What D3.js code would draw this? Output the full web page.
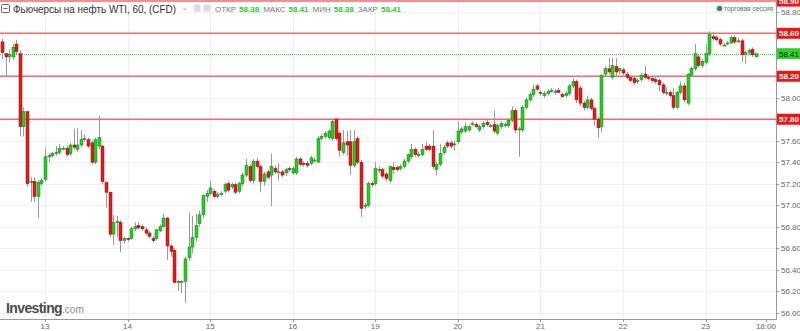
<!DOCTYPE html>
<html>
<head>
<meta charset="utf-8">
<script src="https://cdn.jsdelivr.net/npm/d3@7"></script>
<style>
  body { margin: 0; background: #fff; }
  text { font-family: "Liberation Sans", Arial, sans-serif; }
</style>
</head>
<body>
<div class="canvas"></div>
<script>
// hourly candles, first one is hour index -12 (day 13 starts at 0, 23 bars per day)
const firstHour = -12;

const opens = [
  58.52,58.41,58.38,58.38,58.50,58.41,57.73,57.87,57.21,57.22,57.08,57.20,
  57.24,57.45,57.46,57.48,57.49,57.53,57.53,57.48,57.56,57.52,
  57.56,57.61,57.61,57.58,57.40,57.55,57.55,57.21,57.12,56.73,
  56.84,56.84,56.67,56.69,56.69,56.78,56.81,56.80,56.77,56.74,
  56.69,56.69,56.76,56.80,56.88,56.62,56.58,56.28,56.28,56.29,
  56.51,56.61,56.70,56.83,56.91,57.08,57.11,57.13,57.08,57.10,
  57.13,57.20,57.17,57.19,57.13,57.20,57.28,57.36,57.23,57.41,
  57.36,57.22,57.31,57.28,57.34,57.31,57.31,57.30,57.34,57.30,
  57.30,57.43,57.39,57.39,57.39,57.42,57.40,57.62,57.64,57.63,
  57.62,57.80,57.67,57.49,57.59,57.59,57.37,57.62,57.40,56.99,
  57.00,57.20,57.20,57.33,57.33,57.29,57.23,57.35,57.35,57.34,
  57.36,57.41,57.45,57.52,57.47,57.47,57.55,57.55,57.55,57.33,
  57.38,57.49,57.58,57.58,57.57,57.59,57.68,57.69,57.70,57.76,
  57.75,57.70,57.73,57.77,57.74,57.75,57.67,57.73,57.74,57.74,
  57.79,57.88,57.70,57.70,57.91,57.98,58.03,58.11,58.05,58.02,
  58.04,58.07,58.05,58.07,58.03,58.02,58.04,58.11,58.15,58.09,
  57.95,57.91,57.98,57.90,57.80,57.73,58.22,58.27,58.19,58.29,
  58.25,58.26,58.22,58.19,58.18,58.15,58.17,58.22,58.19,58.18,
  58.17,58.16,58.12,58.04,58.05,58.02,57.91,58.05,58.11,57.95,
  58.21,58.27,58.38,58.30,58.33,58.41,58.57,58.56,58.54,58.49,
  58.50,58.51,58.56,58.52,58.53,58.41,58.42,58.45,58.38
];
const highs = [
  58.55,58.42,58.45,58.50,58.54,58.44,57.91,57.88,57.26,57.26,57.23,57.25,
  57.53,57.48,57.50,57.55,57.57,57.55,57.55,57.58,57.71,57.72,
  57.70,57.66,57.63,57.60,57.63,57.83,57.56,57.22,57.13,56.91,
  56.90,56.86,56.71,56.70,56.80,56.84,56.84,56.82,56.79,56.76,
  56.71,56.78,56.82,56.92,56.89,56.64,56.60,56.31,56.30,56.52,
  56.93,56.90,56.92,56.95,57.10,57.14,57.23,57.15,57.12,57.13,
  57.21,57.22,57.21,57.21,57.22,57.30,57.43,57.38,57.43,57.44,
  57.38,57.31,57.33,57.48,57.37,57.39,57.33,57.35,57.36,57.36,
  57.45,57.45,57.41,57.41,57.46,57.44,57.64,57.66,57.69,57.71,
  57.80,57.81,57.69,57.70,57.69,57.70,57.70,57.64,57.42,57.02,
  57.22,57.22,57.40,57.36,57.35,57.31,57.37,57.40,57.37,57.38,
  57.43,57.48,57.57,57.54,57.50,57.57,57.59,57.57,57.70,57.40,
  57.57,57.56,57.60,57.60,57.60,57.78,57.73,57.77,57.75,57.78,
  57.77,57.75,57.78,57.79,57.76,57.88,57.76,57.78,57.77,57.81,
  57.92,57.90,57.73,57.93,58.00,58.05,58.12,58.13,58.07,58.06,
  58.08,58.09,58.08,58.09,58.05,58.06,58.13,58.18,58.17,58.11,
  57.97,58.02,58.00,57.92,57.82,58.22,58.29,58.37,58.37,58.37,
  58.28,58.28,58.24,58.21,58.20,58.18,58.23,58.30,58.21,58.20,
  58.19,58.18,58.14,58.10,58.07,58.09,58.06,58.15,58.14,58.23,
  58.29,58.50,58.40,58.36,58.50,58.62,58.61,58.58,58.56,58.51,
  58.53,58.58,58.58,58.56,58.55,58.44,58.46,58.47,58.41
];
const lows = [
  58.36,58.20,58.33,58.35,58.40,57.64,57.64,57.17,57.03,57.03,56.88,57.18,
  57.22,57.40,57.44,57.46,57.47,57.51,57.45,57.46,57.52,57.50,
  57.54,57.59,57.53,57.38,57.38,57.52,57.20,56.98,56.70,56.63,
  56.70,56.56,56.64,56.66,56.68,56.76,56.77,56.76,56.72,56.69,
  56.65,56.67,56.75,56.79,56.49,56.52,56.27,56.20,56.18,56.09,
  56.48,56.55,56.66,56.80,56.88,57.03,57.09,57.06,57.06,57.08,
  57.11,57.12,57.15,57.10,57.11,57.18,57.26,57.21,57.20,57.34,
  57.12,57.18,57.24,56.99,57.29,57.23,57.26,57.27,57.31,57.28,
  57.28,57.36,57.36,57.35,57.37,57.40,57.39,57.60,57.62,57.61,
  57.60,57.60,57.45,57.47,57.46,57.28,57.35,57.38,56.89,56.96,
  56.98,57.17,57.18,57.30,57.25,57.22,57.21,57.29,57.31,57.32,
  57.34,57.39,57.43,57.45,57.44,57.45,57.50,57.50,57.34,57.28,
  57.36,57.47,57.53,57.53,57.51,57.57,57.66,57.67,57.68,57.74,
  57.72,57.68,57.71,57.73,57.72,57.67,57.65,57.71,57.72,57.72,
  57.77,57.67,57.45,57.68,57.89,57.96,58.01,58.06,58.02,58.00,
  58.02,58.05,58.03,58.04,58.00,58.00,58.02,58.09,57.95,57.92,
  57.88,57.89,57.88,57.74,57.63,57.68,58.20,58.22,58.17,58.20,
  58.22,58.21,58.17,58.14,58.12,58.13,58.15,58.17,58.16,58.14,
  58.13,58.06,58.03,58.02,58.00,57.89,57.89,58.03,57.96,57.93,
  58.19,58.25,58.28,58.28,58.31,58.39,58.53,58.52,58.48,58.48,
  58.49,58.50,58.50,58.51,58.33,58.32,58.40,58.38,58.38
];
const closes = [
  58.42,58.38,58.40,58.47,58.43,57.73,57.87,57.20,57.22,57.08,57.21,57.23,
  57.45,57.46,57.48,57.49,57.53,57.53,57.47,57.56,57.54,57.56,
  57.61,57.62,57.55,57.40,57.61,57.63,57.22,57.12,56.73,56.84,
  56.85,56.67,56.69,56.68,56.78,56.80,56.79,56.78,56.74,56.71,
  56.67,56.77,56.80,56.88,56.62,56.57,56.28,56.29,56.29,56.50,
  56.61,56.70,56.81,56.91,57.09,57.11,57.16,57.08,57.10,57.11,
  57.19,57.14,57.19,57.12,57.20,57.28,57.37,57.23,57.41,57.36,
  57.22,57.29,57.26,57.36,57.31,57.31,57.28,57.33,57.33,57.34,
  57.43,57.38,57.38,57.37,57.44,57.42,57.62,57.64,57.67,57.69,
  57.78,57.62,57.51,57.58,57.56,57.37,57.59,57.40,56.97,57.00,
  57.20,57.19,57.34,57.33,57.27,57.25,57.36,57.33,57.33,57.36,
  57.41,57.47,57.52,57.47,57.47,57.52,57.52,57.52,57.36,57.38,
  57.48,57.54,57.55,57.55,57.57,57.69,57.71,57.73,57.73,57.76,
  57.73,57.73,57.76,57.75,57.74,57.69,57.74,57.76,57.75,57.79,
  57.88,57.70,57.71,57.91,57.98,58.03,58.08,58.08,58.04,58.04,
  58.06,58.07,58.06,58.05,58.01,58.04,58.11,58.15,57.98,57.95,
  57.91,57.98,57.90,57.80,57.72,58.21,58.27,58.24,58.30,58.24,
  58.27,58.23,58.19,58.16,58.14,58.16,58.21,58.19,58.18,58.16,
  58.15,58.12,58.05,58.05,58.02,57.91,58.05,58.11,57.98,58.22,
  58.27,58.41,58.30,58.34,58.41,58.59,58.55,58.54,58.50,58.49,
  58.51,58.56,58.52,58.53,58.40,58.42,58.44,58.40,58.41
];

const dayLabels = ['13', '14', '15', '16', '19', '20', '21', '22', '23'];
const barsPerDay = 23;
const timeTick = { hour: 200.8, label: '18:00' };
const priceTicks = [56.0, 56.2, 56.4, 56.6, 56.8, 57.0, 57.2, 57.4, 57.6, 57.8, 58.0, 58.2, 58.4, 58.6, 58.8];
const levelLines = [58.90, 58.60, 58.20, 57.80];
const lastPrice = 58.41;
const header = { title: 'Фьючерсы на нефть WTI, 60, (CFD)', open: '58.38', high: '58.41', low: '58.38', close: '58.41' };

const candles = opens.map((o, i) => ({
  hour: firstHour + i, open: o, high: highs[i], low: lows[i], close: closes[i]
}));

const dims = { width: 800, height: 331, plotRight: 776, plotBottom: 319 };

const svg = d3.select('.canvas')
  .append('svg')
  .attr('width', dims.width)
  .attr('height', dims.height);

const x = d3.scaleLinear().domain([0, 8 * barsPerDay]).range([45, 705.6]);
const y = d3.scaleLinear().domain([55.94, 58.91]).range([dims.plotBottom, 0]);

// grid
const grid = svg.append('g');
grid.selectAll('.hgrid').data(priceTicks).enter().append('line')
  .attr('x1', 0).attr('x2', dims.plotRight)
  .attr('y1', d => Math.round(y(d)) + 0.5).attr('y2', d => Math.round(y(d)) + 0.5)
  .attr('stroke', '#efefef');
grid.selectAll('.vgrid').data(dayLabels).enter().append('line')
  .attr('x1', (d, i) => Math.round(x(i * barsPerDay)) + 0.5)
  .attr('x2', (d, i) => Math.round(x(i * barsPerDay)) + 0.5)
  .attr('y1', 0).attr('y2', dims.plotBottom)
  .attr('stroke', '#efefef');

// level lines
svg.selectAll('.level').data(levelLines).enter().append('line')
  .attr('x1', 0).attr('x2', dims.plotRight)
  .attr('y1', d => y(d)).attr('y2', d => y(d))
  .attr('stroke', '#f26a6a').attr('stroke-width', 1.5);

svg.append('line')
  .attr('x1', 0).attr('x2', dims.plotRight)
  .attr('y1', Math.round(y(lastPrice)) + 0.5).attr('y2', Math.round(y(lastPrice)) + 0.5)
  .attr('stroke', '#4ccf4c').attr('stroke-dasharray', '1,1');

// candles
const bw = 3;
const cg = svg.append('g');
cg.selectAll('.wick').data(candles).enter().append('line')
  .attr('x1', d => Math.round(x(d.hour)) + 0.5)
  .attr('x2', d => Math.round(x(d.hour)) + 0.5)
  .attr('y1', d => y(d.high)).attr('y2', d => y(d.low))
  .attr('stroke', '#999').attr('stroke-width', 1);
cg.selectAll('.body').data(candles).enter().append('rect')
  .attr('x', d => Math.round(x(d.hour)) - 1)
  .attr('y', d => y(Math.max(d.open, d.close)))
  .attr('width', bw)
  .attr('height', d => Math.max(1, Math.abs(y(d.open) - y(d.close))))
  .attr('fill', d => d.close >= d.open ? '#22d122' : '#e21b1b')
  .attr('stroke', d => d.close >= d.open ? '#1a7a1a' : '#8c1010')
  .attr('stroke-width', 0.5);

// axes lines
svg.append('line').attr('x1', dims.plotRight + 0.5).attr('x2', dims.plotRight + 0.5)
  .attr('y1', 0).attr('y2', dims.plotBottom + 1).attr('stroke', '#999');
svg.append('line').attr('x1', 0).attr('x2', dims.plotRight)
  .attr('y1', dims.plotBottom + 0.5).attr('y2', dims.plotBottom + 0.5).attr('stroke', '#999');

// right axis (labels hidden where a level marker sits)
const markers = levelLines.concat([lastPrice]);
const shownTicks = priceTicks.filter(t => markers.every(m => Math.abs(y(m) - y(t)) > 8));
const yAxis = svg.append('g');
yAxis.selectAll('.tick').data(priceTicks).enter().append('line')
  .attr('x1', dims.plotRight).attr('x2', dims.plotRight + 3)
  .attr('y1', d => Math.round(y(d)) + 0.5).attr('y2', d => Math.round(y(d)) + 0.5)
  .attr('stroke', '#999');
yAxis.selectAll('.lbl').data(shownTicks).enter().append('text')
  .attr('x', 781).attr('y', d => y(d) + 3)
  .attr('font-size', 8).attr('fill', '#666')
  .text(d => d.toFixed(2));

// red level labels
const lvl = svg.selectAll('.lvl').data(levelLines).enter().append('g');
lvl.append('rect').attr('x', 777).attr('y', d => y(d) - 5.5).attr('width', 23).attr('height', 11).attr('fill', '#f01414');
lvl.append('text').attr('x', 779).attr('y', d => y(d) + 3)
  .attr('font-size', 8).attr('font-weight', 'bold').attr('fill', '#fff')
  .text(d => d.toFixed(2));

svg.append('rect').attr('x', 777).attr('y', y(lastPrice) - 5.5).attr('width', 23).attr('height', 11).attr('fill', '#30d030');
svg.append('text').attr('x', 779).attr('y', y(lastPrice) + 3)
  .attr('font-size', 8).attr('fill', '#1a1a1a')
  .text(lastPrice.toFixed(2));

// bottom axis
const xTicks = dayLabels.map((d, i) => ({ hour: i * barsPerDay, label: d })).concat([timeTick]);
svg.selectAll('.xtick').data(xTicks).enter().append('line')
  .attr('x1', d => Math.round(x(d.hour)) + 0.5).attr('x2', d => Math.round(x(d.hour)) + 0.5)
  .attr('y1', dims.plotBottom).attr('y2', dims.plotBottom + 3).attr('stroke', '#999');
svg.selectAll('.xlbl').data(xTicks).enter().append('text')
  .attr('x', d => x(d.hour)).attr('y', 329)
  .attr('text-anchor', 'middle').attr('font-size', 8).attr('fill', '#666')
  .text(d => d.label);

// header
const hd = svg.append('g');
hd.append('rect').attr('x', 1.5).attr('y', 4.5).attr('width', 8).attr('height', 8)
  .attr('fill', 'none').attr('stroke', '#666').attr('rx', 1);
hd.append('line').attr('x1', 3.5).attr('x2', 7.5).attr('y1', 8.5).attr('y2', 8.5).attr('stroke', '#666');
hd.append('text').attr('x', 13).attr('y', 13).attr('font-size', 11.3).attr('fill', '#333')
  .attr('textLength', 163).attr('lengthAdjust', 'spacingAndGlyphs').text(header.title);
hd.append('path').attr('d', 'M182.5,8.5 L186.5,8.5 L184.5,10.5 Z').attr('fill', '#bbb');
hd.append('rect').attr('x', 193.5).attr('y', 4.5).attr('width', 7).attr('height', 7).attr('rx', 1.5).attr('fill', '#ddd');
hd.append('rect').attr('x', 203.5).attr('y', 4.5).attr('width', 7).attr('height', 7).attr('rx', 1.5).attr('fill', '#ddd');

const ohlc = hd.append('text').attr('x', 215).attr('y', 12).attr('font-size', 8);
[['ОТКР', header.open], ['МАКС', header.high], ['МИН', header.low], ['ЗАКР', header.close]].forEach(([k, v], i) => {
  ohlc.append('tspan').attr('dx', i ? 4 : 0).attr('fill', '#777').text(k);
  ohlc.append('tspan').attr('dx', 3).attr('fill', '#2bcc2b').attr('font-weight', 'bold').text(v);
});

// legend
svg.append('circle').attr('cx', 719.5).attr('cy', 8.5).attr('r', 2.8).attr('fill', '#2f8f4f');
svg.append('text').attr('x', 724).attr('y', 11).attr('font-size', 7.5).attr('fill', '#3d7a5a')
  .attr('textLength', 49).attr('lengthAdjust', 'spacingAndGlyphs').text('торговая сессия');

// logo
const logo = svg.append('text').attr('x', 6).attr('y', 313);
logo.append('tspan').attr('font-size', 14).attr('font-weight', 'bold').attr('fill', '#4a4a4a')
  .attr('letter-spacing', -0.6).text('Investing');
logo.append('tspan').attr('font-size', 10).attr('fill', '#888').text('.com');
</script>
</body>
</html>
